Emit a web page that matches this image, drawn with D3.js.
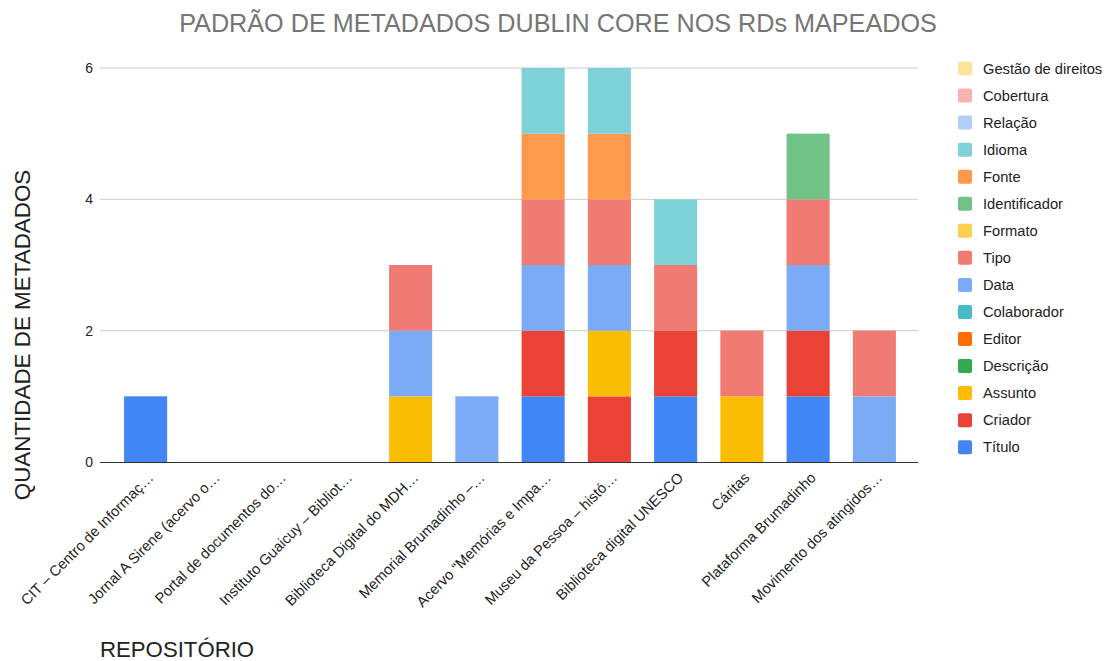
<!DOCTYPE html>
<html><head><meta charset="utf-8">
<script src="https://cdn.jsdelivr.net/npm/d3@7"></script>
<style>body{margin:0;background:#fff;}svg{display:block;font-family:"Liberation Sans",Arial,sans-serif;}</style>
</head><body><svg id="c" width="1117" height="661"></svg>
<script>
const categories = ["CIT – Centro de Informaç…","Jornal A Sirene (acervo o…","Portal de documentos do…","Instituto Guaicuy – Bibliot…","Biblioteca Digital do MDH…","Memorial Brumadinho –…","Acervo “Memórias e Impa…","Museu da Pessoa – histó…","Biblioteca digital UNESCO","Cáritas","Plataforma Brumadinho","Movimento dos atingidos…"];
const seriesNames = ["Título","Criador","Assunto","Descrição","Editor","Colaborador","Data","Tipo","Formato","Identificador","Fonte","Idioma","Relação","Cobertura","Gestão de direitos"];
const seriesColors = ["#4285F4","#EA4335","#FBBC04","#34A853","#FF6D01","#46BDC6","#7BAAF7","#F07B72","#FCD04F","#71C287","#FF994D","#7ED1D7","#B3CEFB","#F7B4AE","#FDE49B"];
const titulo        = [1,0,0,0,0,0,1,0,1,0,1,0];
const criador       = [0,0,0,0,0,0,1,1,1,0,1,0];
const assunto       = [0,0,0,0,1,0,0,1,0,1,0,0];
const descricao     = [0,0,0,0,0,0,0,0,0,0,0,0];
const editor        = [0,0,0,0,0,0,0,0,0,0,0,0];
const colaborador   = [0,0,0,0,0,0,0,0,0,0,0,0];
const data_         = [0,0,0,0,1,1,1,1,0,0,1,1];
const tipo          = [0,0,0,0,1,0,1,1,1,1,1,1];
const formato       = [0,0,0,0,0,0,0,0,0,0,0,0];
const identificador = [0,0,0,0,0,0,0,0,0,0,1,0];
const fonte         = [0,0,0,0,0,0,1,1,0,0,0,0];
const idioma        = [0,0,0,0,0,0,1,1,1,0,0,0];
const relacao       = [0,0,0,0,0,0,0,0,0,0,0,0];
const cobertura     = [0,0,0,0,0,0,0,0,0,0,0,0];
const gestao        = [0,0,0,0,0,0,0,0,0,0,0,0];
const yTicks = [0,2,4,6];
const chartTitle = "PADRÃO DE METADADOS DUBLIN CORE NOS RDs MAPEADOS";
const xTitle = "REPOSITÓRIO";
const yTitle = "QUANTIDADE DE METADADOS";

const seriesValues = [titulo,criador,assunto,descricao,editor,colaborador,data_,tipo,formato,identificador,fonte,idioma,relacao,cobertura,gestao];
const rows = categories.map((c,i)=>{const r={cat:c}; seriesNames.forEach((s,j)=>r[s]=seriesValues[j][i]); return r;});
const stack = d3.stack().keys(seriesNames)(rows);

const svg = d3.select("#c");
const x = d3.scaleBand().domain(categories).range([112.5,907.5]).paddingInner(0.35).paddingOuter(0.175);
const y = d3.scaleLinear().domain([0,6]).range([462,68]);
const gridX0 = 100, gridX1 = 918;

svg.append("g").selectAll("line").data(yTicks.filter(t=>t>0)).join("line")
  .attr("x1",gridX0).attr("x2",gridX1).attr("y1",d=>y(d)).attr("y2",d=>y(d))
  .attr("stroke","#cccccc").attr("stroke-width",1);
svg.append("g").selectAll("text").data(yTicks).join("text")
  .attr("x",93).attr("y",d=>y(d)).attr("dy","0.35em").attr("text-anchor","end")
  .attr("font-size",14).attr("fill","#222").text(d=>d);

svg.append("g").selectAll("g").data(stack).join("g")
  .attr("fill",(d,i)=>seriesColors[i])
  .selectAll("rect").data(d=>d.filter(p=>p[1]-p[0]>0).map(p=>({p,cat:p.data.cat}))).join("rect")
  .attr("x",d=>x(d.cat)).attr("width",x.bandwidth())
  .attr("y",d=>y(d.p[1])).attr("height",d=>y(d.p[0])-y(d.p[1]));

svg.append("line").attr("x1",gridX0).attr("x2",gridX1).attr("y1",y(0)+0.5).attr("y2",y(0)+0.5)
  .attr("stroke","#333").attr("stroke-width",1);

svg.append("g").selectAll("text").data(categories).join("text")
  .attr("transform",d=>`translate(${x(d)+x.bandwidth()/2+5},${475}) rotate(-45)`)
  .attr("text-anchor","end").attr("dy","0.35em")
  .attr("font-size",14.7).attr("fill","#222").text(d=>d);

svg.append("text").attr("x",558).attr("y",32).attr("text-anchor","middle")
  .attr("font-size",25.2).attr("fill","#757575").text(chartTitle);
svg.append("text").attr("x",100).attr("y",657).attr("font-size",22.2).attr("fill","#222").text(xTitle);
svg.append("text").attr("transform","translate(30,335) rotate(-90)").attr("text-anchor","middle")
  .attr("font-size",22.4).attr("fill","#222").text(yTitle);

const legendItems = seriesNames.map((s,i)=>({s,c:seriesColors[i]})).reverse();
const lg = svg.append("g").selectAll("g").data(legendItems).join("g")
  .attr("transform",(d,i)=>`translate(958,${68.5+i*27.05})`);
lg.append("rect").attr("x",0).attr("y",-7).attr("width",14).attr("height",14).attr("rx",2).attr("fill",d=>d.c);
lg.append("text").attr("x",25).attr("y",0).attr("dy","0.35em").attr("font-size",14.7).attr("fill","#222").text(d=>d.s);
</script></body></html>
